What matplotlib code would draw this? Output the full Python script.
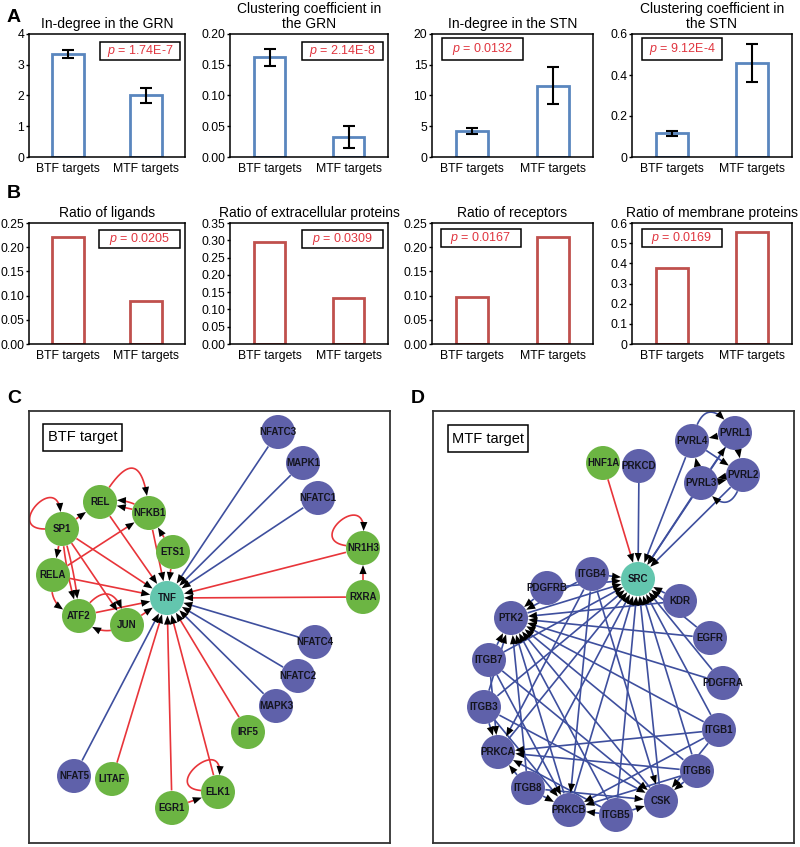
import numpy as np
import matplotlib.pyplot as plt
from matplotlib.patches import Rectangle, Circle, Polygon

plt.rcParams['font.family'] = ['Liberation Sans', 'DejaVu Sans']
plt.rcParams['mathtext.fontset'] = 'custom'
plt.rcParams['mathtext.it'] = 'Liberation Sans:italic'
plt.rcParams['mathtext.rm'] = 'Liberation Sans'

W, H = 800, 847

# ---------------- data: panel A / B ----------------
groups = ['BTF targets', 'MTF targets']

titles_a = ['In-degree in the GRN', 'Clustering coefficient in\nthe GRN',
            'In-degree in the STN', 'Clustering coefficient in\nthe STN']
means_a = [[3.35, 2.00], [0.162, 0.032], [4.27, 11.6], [0.115, 0.46]]
errs_a = [[0.12, 0.23], [0.014, 0.018], [0.45, 3.05], [0.013, 0.093]]
p_a = ['1.74E-7', '2.14E-8', '0.0132', '9.12E-4']
ymax_a = [4, 0.20, 20, 0.6]
yticks_a = [['0', '1', '2', '3', '4'],
            ['0.00', '0.05', '0.10', '0.15', '0.20'],
            ['0', '5', '10', '15', '20'],
            ['0', '0.2', '0.4', '0.6']]

titles_b = ['Ratio of ligands', 'Ratio of extracellular proteins',
            'Ratio of receptors', 'Ratio of membrane proteins']
ratios_b = [[0.222, 0.088], [0.295, 0.132], [0.098, 0.221], [0.378, 0.556]]
p_b = ['0.0205', '0.0309', '0.0167', '0.0169']
ymax_b = [0.25, 0.35, 0.25, 0.6]
yticks_b = [['0.00', '0.05', '0.10', '0.15', '0.20', '0.25'],
            ['0.00', '0.05', '0.10', '0.15', '0.20', '0.25', '0.30', '0.35'],
            ['0.00', '0.05', '0.10', '0.15', '0.20', '0.25'],
            ['0', '0.1', '0.2', '0.3', '0.4', '0.5', '0.6']]

# ---------------- data: networks (node positions, px) ----------------
c_nodes = ['NFATC3', 'MAPK1', 'NFATC1', 'REL', 'NFKB1', 'SP1', 'ETS1', 'NR1H3', 'RELA',
           'TNF', 'RXRA', 'ATF2', 'JUN', 'NFATC4', 'NFATC2', 'MAPK3', 'IRF5', 'NFAT5',
           'LITAF', 'ELK1', 'EGR1']
c_x = [278, 303, 318, 100, 149, 62, 173, 363, 53, 167, 363, 79, 127, 315, 298, 276, 248, 74, 112, 218, 172]
c_y = [432, 463, 498, 502, 513, 529, 552, 548, 575, 598, 597, 616, 625, 642, 676, 706, 732, 776, 779, 792, 808]
c_green = ['REL', 'NFKB1', 'SP1', 'ETS1', 'NR1H3', 'RELA', 'RXRA', 'ATF2', 'JUN', 'IRF5', 'LITAF', 'ELK1', 'EGR1']
c_hub = ['TNF']
c_edges = [('SP1', 'REL', 0), ('NFKB1', 'REL', 0), ('NFKB1', 'REL', 0.25), ('REL', 'NFKB1', -1.6),
           ('SP1', 'RELA', 0), ('SP1', 'ATF2', 0.06), ('SP1', 'ATF2', -0.06), ('SP1', 'JUN', 0),
           ('SP1', 'TNF', 0), ('RELA', 'NFKB1', 0), ('RELA', 'TNF', 0), ('RELA', 'ATF2', 0.5),
           ('ATF2', 'TNF', 0), ('ATF2', 'JUN', -1.1), ('JUN', 'ATF2', -0.4), ('JUN', 'TNF', 0),
           ('REL', 'TNF', 0), ('NFKB1', 'TNF', 0), ('ETS1', 'NFKB1', 0), ('ETS1', 'TNF', 0),
           ('NR1H3', 'TNF', 0), ('RXRA', 'NR1H3', 0), ('RXRA', 'TNF', 0), ('IRF5', 'TNF', 0),
           ('LITAF', 'TNF', 0), ('EGR1', 'TNF', 0), ('EGR1', 'ELK1', 0), ('ELK1', 'TNF', 0),
           ('NFATC3', 'TNF', 0), ('MAPK1', 'TNF', 0), ('NFATC1', 'TNF', 0), ('NFATC4', 'TNF', 0),
           ('NFATC2', 'TNF', 0), ('MAPK3', 'TNF', 0), ('NFAT5', 'TNF', 0)]
c_loops = [('SP1', 180, 95), ('NR1H3', 172, 88), ('ELK1', 175, 85)]

d_nodes = ['PVRL1', 'PVRL4', 'HNF1A', 'PRKCD', 'PVRL2', 'PVRL3', 'SRC', 'ITGB4', 'PDGFRB',
           'KDR', 'PTK2', 'EGFR', 'ITGB7', 'PDGFRA', 'ITGB3', 'ITGB1', 'PRKCA', 'ITGB6',
           'ITGB8', 'CSK', 'PRKCB', 'ITGB5']
d_x = [735, 692, 603, 639, 743, 701, 638, 592, 547, 680, 511, 710, 489, 723, 484, 719, 498, 697, 528, 661, 569, 616]
d_y = [433, 441, 463, 466, 475, 483, 579, 574, 588, 601, 618, 638, 660, 683, 707, 730, 752, 771, 788, 801, 810, 815]
d_green = ['HNF1A']
d_hub = ['SRC']
to_src = ['HNF1A', 'PRKCD', 'PVRL4', 'PVRL3', 'PVRL2', 'PVRL1', 'ITGB4', 'KDR', 'EGFR', 'PDGFRA',
          'ITGB1', 'ITGB6', 'CSK', 'ITGB5', 'PRKCB', 'ITGB8', 'PRKCA', 'ITGB3', 'ITGB7', 'PTK2', 'PDGFRB']
to_ptk2 = ['ITGB4', 'PDGFRB', 'KDR', 'EGFR', 'PDGFRA', 'ITGB1', 'ITGB6', 'CSK', 'ITGB5',
           'PRKCB', 'ITGB8', 'ITGB3', 'ITGB7']
to_prkca = ['ITGB3', 'ITGB7', 'ITGB1', 'ITGB6', 'ITGB8', 'ITGB5', 'ITGB4']
to_prkcb = ['ITGB8', 'ITGB3', 'ITGB7', 'ITGB5', 'ITGB6', 'ITGB1', 'ITGB4']
to_csk = ['ITGB6', 'ITGB1', 'ITGB5', 'ITGB8', 'ITGB3', 'ITGB7', 'ITGB4']
pvrl_edges = [('PVRL1', 'PVRL4', 0), ('PVRL4', 'PVRL1', -1.15), ('PVRL3', 'PVRL4', 0),
              ('PVRL1', 'PVRL2', 0), ('PVRL3', 'PVRL1', 0), ('PVRL4', 'PVRL2', 0),
              ('PVRL3', 'PVRL2', 0.08), ('PVRL2', 'PVRL3', 0.08), ('PVRL2', 'PVRL3', -1.1)]

# ---------------- styles ----------------
BLUE_BAR = '#5a86be'
RED_BAR = '#c0504d'
P_RED = '#e0353f'
GREEN = '#6cb543'
PURPLE = '#5f61aa'
TEAL = '#63c6ae'
E_RED = '#e8353a'
E_BLUE = '#3e4f9e'
R = 17

fig = plt.figure(figsize=(W / 100, H / 100), dpi=100)


def px_axes(x0, y0, x1, y1):
    return fig.add_axes([x0 / W, 1 - y1 / H, (x1 - x0) / W, (y1 - y0) / H])


def p_box(x0, y0, x1, y1, p):
    fig.add_artist(Rectangle((x0 / W, 1 - y1 / H), (x1 - x0) / W, (y1 - y0) / H,
                             transform=fig.transFigure, fc='white', ec='black', lw=1.1, zorder=5))
    fig.text((x0 + x1) / 2 / W, 1 - (y0 + y1) / 2 / H, '$p$ = ' + p, color=P_RED,
             ha='center', va='center', fontsize=9, zorder=6)


cols = [(29, 185), (230, 388), (432, 593), (632, 792)]
boxes_a = [(100, 42, 180, 60), (302, 42, 383, 60), (442, 38, 523, 60), (642, 38, 722, 60)]
boxes_b = [(99, 230, 180, 248), (302, 230, 383, 248), (441, 229, 521, 247), (642, 229, 722, 247)]


def bar_panel(ax, vals, errs, color, ymax, ylabels, title):
    x = np.arange(len(groups))
    ax.bar(x, vals, width=0.4, fill=False, edgecolor=color, linewidth=2)
    if errs is not None:
        ax.errorbar(x, vals, yerr=errs, fmt='none', ecolor='black', capsize=4,
                    elinewidth=1.5, capthick=1.5)
    ax.set_xlim(-0.5, 1.5)
    ax.set_ylim(0, ymax)
    ax.set_xticks(x, groups, fontsize=8.8)
    ax.set_yticks([float(t) for t in ylabels], ylabels, fontsize=8.8)
    ax.tick_params(axis='x', length=0, pad=4)
    ax.tick_params(axis='y', length=2, width=1, pad=1.5)
    for s in ax.spines.values():
        s.set_linewidth(1.1)
    ax.set_title(title, fontsize=10, pad=4, linespacing=1.1)


for i, (x0, x1) in enumerate(cols):
    ax = px_axes(x0, 34, x1, 157)
    bar_panel(ax, means_a[i], errs_a[i], BLUE_BAR, ymax_a[i], yticks_a[i], titles_a[i])
    p_box(*boxes_a[i], p_a[i])
    ax = px_axes(x0, 223, x1, 344)
    bar_panel(ax, ratios_b[i], None, RED_BAR, ymax_b[i], yticks_b[i], titles_b[i])
    p_box(*boxes_b[i], p_b[i])

for lab, x, y in [('A', 14, 18), ('B', 14, 193), ('C', 14, 398), ('D', 418, 398)]:
    fig.text(x / W, 1 - y / H, lab, fontsize=14, fontweight='bold', ha='center', va='center')


# ---------------- network helpers ----------------
def unit(v):
    return v / np.hypot(v[0], v[1])


def draw_curve(ax, pts, ps, pt, color):
    # trim the curve at the node circles and put a black head at the target
    ds = np.hypot(*(pts - ps).T)
    dt = np.hypot(*(pts - pt).T)
    keep = np.where((ds >= R) & (dt >= R))[0]
    pts = pts[keep[0]:keep[-1] + 1]
    tip = pts[-1]
    u = unit(tip - pts[max(len(pts) - 4, 0)])
    head = 9
    base = tip - u * head
    line = pts[np.hypot(*(pts - tip).T) > head]
    line = np.vstack([line, base + u * 1.0])
    ax.plot(line[:, 0], line[:, 1], color=color, lw=1.2, zorder=1, solid_capstyle='butt')
    n = np.array([-u[1], u[0]])
    ax.add_patch(Polygon([tip, base + n * 3.6, base - n * 3.6], closed=True,
                         fc='black', ec='none', zorder=3))


def draw_edge(ax, pos, s, t, rad, color):
    p0, p2 = pos[s], pos[t]
    d = p2 - p0
    L = np.hypot(d[0], d[1])
    nrm = np.array([-d[1], d[0]]) / L
    c = (p0 + p2) / 2 + rad * L * nrm
    tt = np.linspace(0, 1, 300)[:, None]
    pts = (1 - tt) ** 2 * p0 + 2 * (1 - tt) * tt * c + tt ** 2 * p2
    draw_curve(ax, pts, p0, p2, color)


def draw_loop(ax, pos, node, a1, a2, color, k=3.4):
    c = pos[node]
    d1 = np.array([np.cos(np.radians(a1)), -np.sin(np.radians(a1))])
    d2 = np.array([np.cos(np.radians(a2)), -np.sin(np.radians(a2))])
    q0, q1, q2, q3 = c + R * d1, c + k * R * d1, c + k * R * d2, c + R * d2
    tt = np.linspace(0, 1, 300)[:, None]
    pts = ((1 - tt) ** 3 * q0 + 3 * (1 - tt) ** 2 * tt * q1
           + 3 * (1 - tt) * tt ** 2 * q2 + tt ** 3 * q3)
    # the loop starts on the circle, so only trim at the arrow end
    draw_curve(ax, pts, c + 1e6, c, color)


def draw_network(box, names, xs, ys, green, hub, edges, loops, label, lbox):
    x0, y0, x1, y1 = box
    ax = px_axes(x0, y0, x1, y1)
    ax.set_xlim(x0, x1)
    ax.set_ylim(y1, y0)
    ax.set_xticks([])
    ax.set_yticks([])
    for s in ax.spines.values():
        s.set_linewidth(1.3)
        s.set_color('#333333')
    pos = {n: np.array([x, y], dtype=float) for n, x, y in zip(names, xs, ys)}
    for s, t, rad in edges:
        draw_edge(ax, pos, s, t, rad, E_RED if s in green else E_BLUE)
    for n, a1, a2 in loops:
        draw_loop(ax, pos, n, a1, a2, E_RED if n in green else E_BLUE)
    for n in names:
        col = TEAL if n in hub else (GREEN if n in green else PURPLE)
        ax.add_patch(Circle(pos[n], R, fc=col, ec='none', zorder=2))
        ax.text(pos[n][0], pos[n][1], n, ha='center', va='center', fontsize=7,
                fontweight='bold', color='#14141e', zorder=5)
    bx0, by0, bx1, by1 = lbox
    ax.add_patch(Rectangle((bx0, by0), bx1 - bx0, by1 - by0, fc='white', ec='black', lw=1.1, zorder=4))
    ax.text((bx0 + bx1) / 2, (by0 + by1) / 2, label, ha='center', va='center', fontsize=10.5, zorder=5)
    return ax


d_edges = ([(s, 'SRC', 0) for s in to_src] + [(s, 'PTK2', 0) for s in to_ptk2]
           + [(s, 'PRKCA', 0) for s in to_prkca] + [(s, 'PRKCB', 0) for s in to_prkcb]
           + [(s, 'CSK', 0) for s in to_csk] + pvrl_edges)

draw_network((29, 411, 390, 843), c_nodes, c_x, c_y, c_green, c_hub, c_edges, c_loops,
             'BTF target', (43, 424, 122, 451))
draw_network((433, 411, 794, 843), d_nodes, d_x, d_y, d_green, d_hub, d_edges, [],
             'MTF target', (448, 425, 528, 452))

fig.savefig('out.png', dpi=100)
